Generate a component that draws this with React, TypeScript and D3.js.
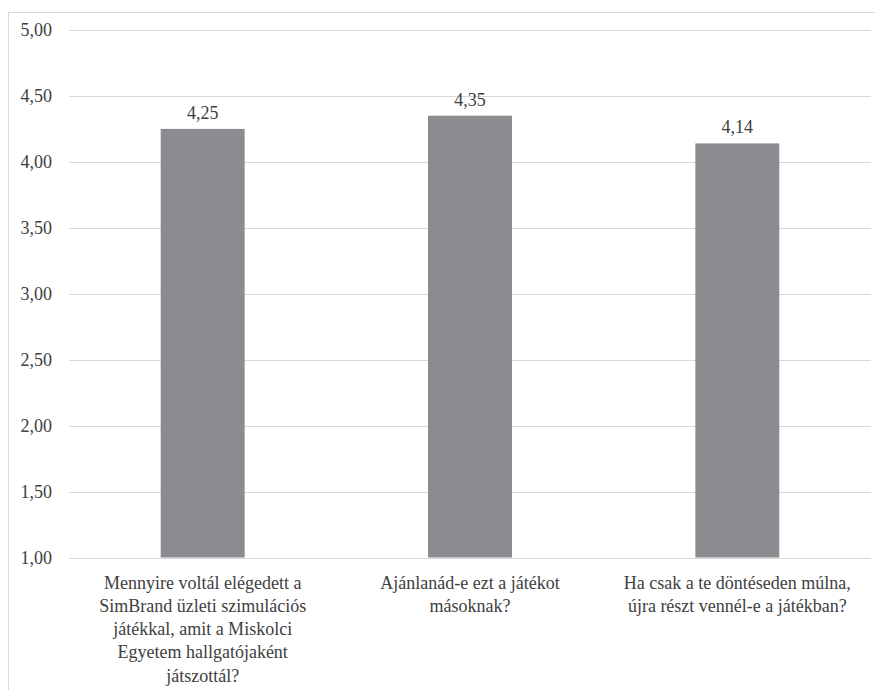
import React from "react";
import * as d3 from "d3";

// Survey questions (x categories), one entry per bar, wrapped as shown under the axis
const categories: string[][] = [
  [
    "Mennyire voltál elégedett a",
    "SimBrand üzleti szimulációs",
    "játékkal, amit a Miskolci",
    "Egyetem hallgatójaként",
    "játszottál?",
  ],
  ["Ajánlanád-e ezt a játékot", "másoknak?"],
  ["Ha csak a te döntéseden múlna,", "újra részt vennél-e a játékban?"],
];

// Mean scores per question
const values: number[] = [4.25, 4.35, 4.14];

// Y axis ticks
const yTicks: number[] = [1, 1.5, 2, 2.5, 3, 3.5, 4, 4.5, 5];

const W = 875;
const H = 690;
const margin = { left: 69, right: 4, top: 30, bottom: 132.5 };

const TEXT = "#404040";
const GRID = "#d9d9d9";
const BAR = "#8b8c90";

const fmt = (v: number) => d3.format(".2f")(v).replace(".", ",");

export default function App() {
  const keys = categories.map((_, i) => String(i));
  const x = d3
    .scaleBand<string>()
    .domain(keys)
    .range([margin.left, W - margin.right])
    .paddingInner(0.686)
    .paddingOuter(0.343);
  const y = d3
    .scaleLinear()
    .domain([1, 5])
    .range([H - margin.bottom, margin.top]);

  return (
    <svg
      width={W}
      height={H}
      style={{ position: "absolute", left: 0, top: 0, display: "block" }}
    >
      <style>{`.lbl { font-family: "Liberation Serif", "Times New Roman", serif; font-size: 18px; fill: ${TEXT}; }`}</style>
      <rect x={0} y={0} width={W} height={H} fill="#fff" />
      {/* chart frame */}
      <rect
        x={8.5}
        y={12.5}
        width={W + 20}
        height={H + 20}
        fill="none"
        stroke={GRID}
        strokeWidth={1}
      />
      {/* gridlines and y tick labels */}
      {yTicks.map((t) => (
        <g key={t}>
          <line
            x1={margin.left}
            x2={W - margin.right}
            y1={Math.round(y(t)) + 0.5}
            y2={Math.round(y(t)) + 0.5}
            stroke={GRID}
            strokeWidth={1}
          />
          <text
            className="lbl"
            x={52}
            y={y(t)}
            dy="0.35em"
            textAnchor="end"
            fontFamily="Liberation Serif"
          >
            {fmt(t)}
          </text>
        </g>
      ))}
      {/* bars */}
      {values.map((v, i) => (
        <rect
          key={i}
          x={x(String(i))}
          y={y(v)}
          width={x.bandwidth()}
          height={y(1) - y(v)}
          fill={BAR}
        />
      ))}
      {/* value labels */}
      {values.map((v, i) => (
        <text
          key={i}
          className="lbl"
          x={(x(String(i)) as number) + x.bandwidth() / 2}
          y={y(v) - 10}
          textAnchor="middle"
          fontFamily="Liberation Serif"
        >
          {fmt(v)}
        </text>
      ))}
      {/* category labels */}
      {categories.map((lines, i) => {
        const cx = (x(String(i)) as number) + x.bandwidth() / 2;
        return (
          <text
            key={i}
            className="lbl"
            x={cx}
            y={588.5}
            textAnchor="middle"
            fontFamily="Liberation Serif"
          >
            {lines.map((ln, j) => (
              <tspan key={j} x={cx} y={588.5 + j * 23.3}>
                {ln}
              </tspan>
            ))}
          </text>
        );
      })}
    </svg>
  );
}
